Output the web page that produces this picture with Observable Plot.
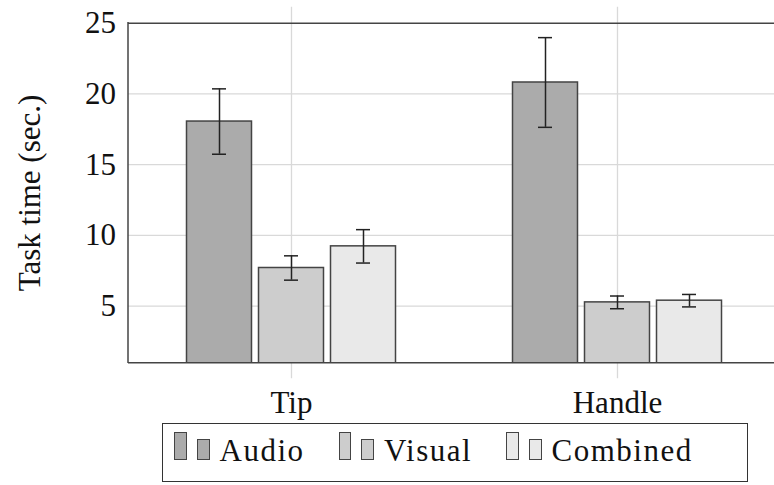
<!DOCTYPE html>
<html><head><meta charset="utf-8">
<script src="https://cdn.jsdelivr.net/npm/d3@7"></script>
<script src="https://cdn.jsdelivr.net/npm/@observablehq/plot@0.6"></script>
<style>
html,body{margin:0;padding:0;background:#fff;overflow:hidden;}
#chart svg{display:block;max-width:none !important;}
#legend{position:absolute;left:162px;top:423px;width:586px;height:59px;box-sizing:border-box;border:1.5px solid #333;
  display:flex;align-items:flex-start;padding:7.7px 0 0 11px;gap:34px;font-family:"Liberation Serif","Times New Roman",Tinos,"DejaVu Serif","Noto Serif",serif;font-size:31px;letter-spacing:1.5px;color:#111;}
#legend .item{display:flex;align-items:flex-end;}
#legend .sw{box-sizing:border-box;border:1.4px solid #444;margin-bottom:7px;margin-right:10px;}
#legend .t{line-height:32px;height:32px;}
</style></head><body>
<div id="chart"></div>
<div id="legend"></div>
<script>
const groups = ["Tip", "Handle"];
const conditions = ["Audio", "Visual", "Combined"];
const tipMeans = [18.05, 7.70, 9.23];
const tipErrors = [2.31, 0.86, 1.18];
const handleMeans = [20.81, 5.27, 5.39];
const handleErrors = [3.17, 0.45, 0.44];
const fills = ["#ababab", "#cdcdcd", "#e9e9e9"];
const yTicks = [5, 10, 15, 20, 25];
const yDomain = [1, 25];
const yLabel = "Task time (sec.)";

const means = {Tip: tipMeans, Handle: handleMeans};
const errors = {Tip: tipErrors, Handle: handleErrors};
const data = groups.flatMap(g => conditions.map((c, i) => ({group: g, condition: c, value: means[g][i], err: errors[g][i]})));

const gridColor = "#d9d9d9";
const chart = Plot.plot({
  width: 781, height: 423,
  marginLeft: 127.5, marginRight: 0, marginTop: 22.7, marginBottom: 60.7,
  style: {fontFamily: "'Liberation Serif', 'Times New Roman', Tinos, 'DejaVu Serif', 'Noto Serif', serif", fontSize: "31px", color: "#111", background: "white", maxWidth: "none"},
  fx: {domain: groups, padding: 0, label: null, tickSize: 0, tickPadding: 28, axis: "bottom"},
  x: {domain: conditions, paddingInner: 0.096, paddingOuter: 0.786, axis: null},
  y: {domain: yDomain, ticks: yTicks, tickSize: 0, tickPadding: 12.5, label: yLabel, labelAnchor: "center", labelOffset: 111, labelArrow: "none"},
  color: {domain: conditions, range: fills},
  marks: [
    Plot.ruleY(yTicks.filter(t => t < yDomain[1]), {stroke: gridColor, strokeWidth: 1.3}),
    Plot.ruleX(groups, {fx: d => d, x: () => conditions[1], stroke: gridColor, strokeWidth: 1.3, insetTop: -16, insetBottom: -16}),
    Plot.barY(data, {fx: "group", x: "condition", y: "value", fill: "condition", stroke: "#444", strokeWidth: 1.5, clip: true}),
    Plot.ruleX(data, {fx: "group", x: "condition", y1: d => d.value - d.err, y2: d => d.value + d.err, stroke: "#222", strokeWidth: 1.5}),
    Plot.tickY(data, {fx: "group", x: "condition", y: d => d.value - d.err, stroke: "#222", strokeWidth: 1.5, insetLeft: 25.5, insetRight: 25.5}),
    Plot.tickY(data, {fx: "group", x: "condition", y: d => d.value + d.err, stroke: "#222", strokeWidth: 1.5, insetLeft: 25.5, insetRight: 25.5}),
    Plot.ruleY(yDomain, {stroke: "#444", strokeWidth: 1.5})
  ]
});
document.getElementById("chart").append(chart);

// left frame border derived from the library's scales
const fxS = chart.scale("fx"), yS = chart.scale("y");
const left = fxS.apply(groups[0]);
d3.select(chart).append("line")
  .attr("x1", left).attr("x2", left)
  .attr("y1", yS.apply(yDomain[1]) - 0.75).attr("y2", yS.apply(yDomain[0]) + 0.75)
  .attr("stroke", "#444").attr("stroke-width", 1.5);

// legend
const lg = d3.select("#legend");
conditions.forEach((c, i) => {
  const it = lg.append("div").attr("class", "item");
  it.append("div").attr("class", "sw").style("width", "12.5px").style("height", "28px").style("background", fills[i]);
  it.append("div").attr("class", "sw").style("width", "13px").style("height", "21px").style("background", fills[i]);
  it.append("div").attr("class", "t").text(c);
});
</script>
</body></html>
